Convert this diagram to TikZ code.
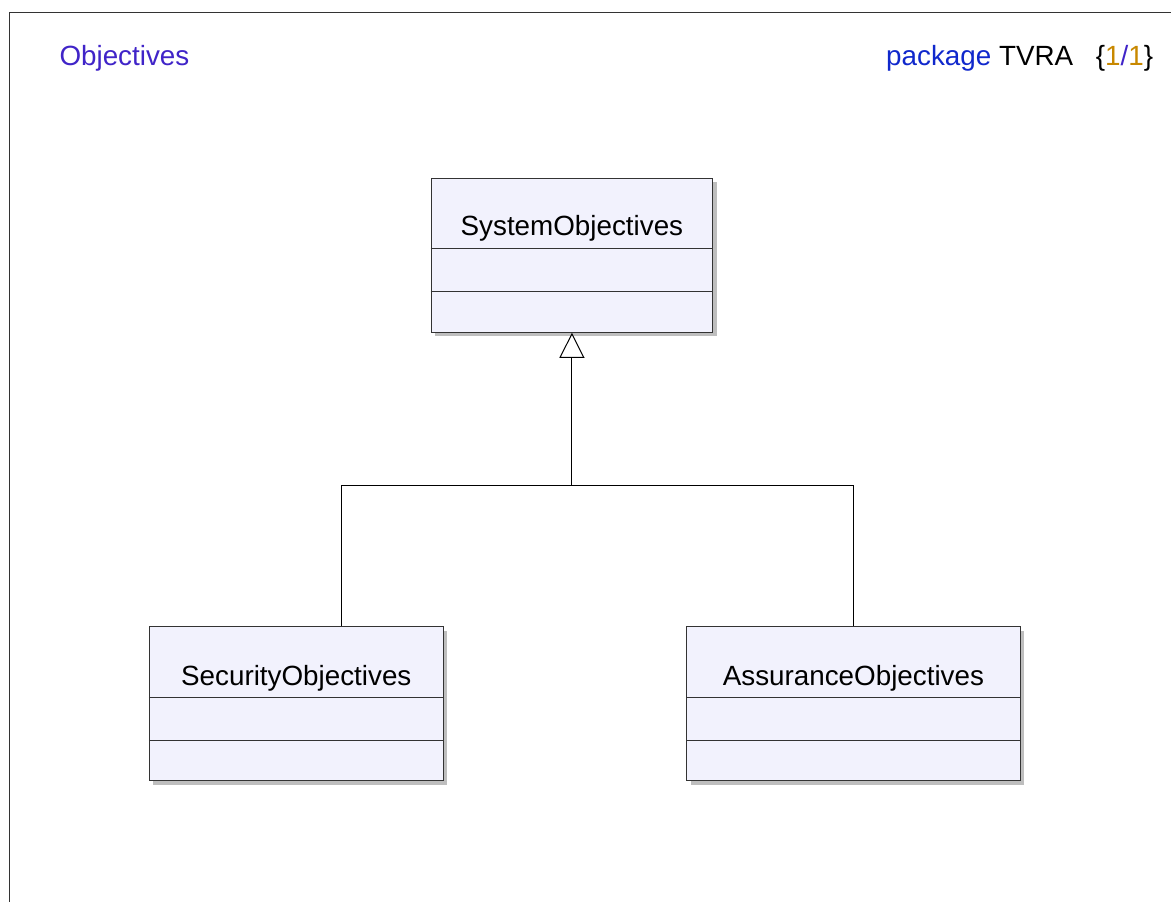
\documentclass[tikz,border=0pt]{standalone}
\usepackage{fontspec}
\setmainfont{Liberation Sans}
\usepackage{tikz}
\usetikzlibrary{shapes,shadows,positioning,arrows.meta}

\definecolor{kastenfarbe}{RGB}{242,242,253}
\definecolor{schatten}{RGB}{190,190,190}
\definecolor{rahmengrau}{RGB}{51,51,51}
\definecolor{titelblau}{RGB}{64,36,200}
\definecolor{paketblau}{RGB}{16,40,204}
\definecolor{seitenzahl}{RGB}{200,136,0}

\newcommand{\schrift}{\fontsize{27.8}{33}\selectfont}

\begin{document}
\begin{tikzpicture}[x=1pt, y=-1pt, font=\schrift]

\tikzstyle{klasse}=[rectangle, draw=rahmengrau, line width=1pt, fill=kastenfarbe, minimum height=154pt, drop shadow={shadow xshift=4pt, shadow yshift=-4pt, fill=schatten, opacity=1}]
\tikzstyle{teiler}=[draw=rahmengrau, line width=1pt]
\tikzstyle{kname}=[anchor=base, inner sep=0pt]
\tikzstyle{linie}=[draw=black, line width=1pt]
\tikzstyle{erbt}=[linie, -{Triangle[open, length=25pt, width=25pt, line width=1pt]}]

\useasboundingbox (0,0) rectangle (1171,902);

% frame of the diagram
\draw[rahmengrau, line width=1pt] (1171,12) -- (9,12) -- (9,902);

\node[anchor=base west, inner sep=0pt, text=titelblau] (titel) at (59.3,65) {Objectives};
\node[anchor=base east, inner sep=0pt] (paket) at (1153.3,65) {\textcolor{paketblau}{package} TVRA\hspace{15pt} \{\textcolor{seitenzahl}{1}\textcolor{titelblau}{/}\textcolor{seitenzahl}{1}\}};

% classes
\node[klasse, minimum width=281.7pt] (system) at (571.9,255.3) {};
\node[klasse, minimum width=294pt] (security) at (296.3,703.7) {};
\node[klasse, minimum width=333.3pt] (assurance) at (853.4,703.7) {};

\foreach \k in {system, security, assurance} {
  \draw[teiler] ([yshift=-71pt]\k.north west) -- ([yshift=-71pt]\k.north east);
  \draw[teiler] ([yshift=-114pt]\k.north west) -- ([yshift=-114pt]\k.north east);
}

\node[kname] (systemname) at ([yshift=-58pt]system.north) {SystemObjectives};
\node[kname] (securityname) at ([yshift=-59pt]security.north) {SecurityObjectives};
\node[kname] (assurancename) at ([yshift=-59pt]assurance.north) {AssuranceObjectives};

% generalisation
\coordinate (knick) at (system.south |- 0,485.7);
\draw[erbt] (knick) -- (system.south);
\draw[linie] ([xshift=45pt]security.north) |- (knick) -| (assurance.north);

\end{tikzpicture}
\end{document}
